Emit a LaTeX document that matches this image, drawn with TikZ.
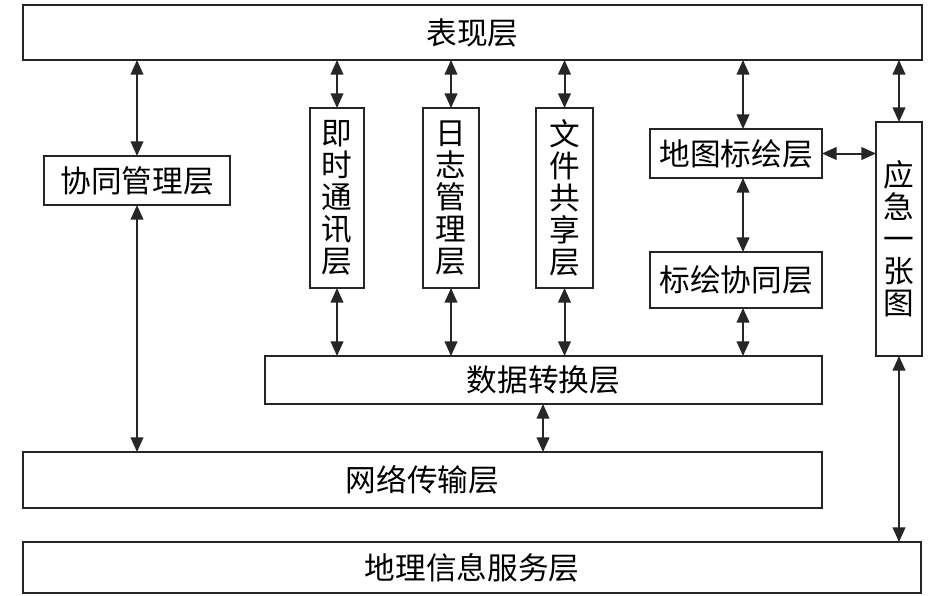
\documentclass[tikz,border=0pt]{standalone}
\usepackage{fontspec}
\newfontfamily\cjk{Noto Sans CJK SC}
\usetikzlibrary{arrows.meta}
\begin{document}
\begin{tikzpicture}[x=0.75pt,y=-0.75pt,
  box/.style={draw=black!85, line width=1.5pt, inner sep=0pt, outer sep=0pt, fill=white,
    font=\cjk\fontsize{23}{24}\selectfont, align=center},
  arr/.style={line width=1.5pt, draw=black!85, {Triangle[length=11pt,width=9.5pt]}-{Triangle[length=11pt,width=9.5pt]}}]
\useasboundingbox (0,0) rectangle (946,596);
% boxes
\node[box, minimum width=899*0.75pt, minimum height=55*0.75pt] (top) at (472.5,32.5) {表现层};
\node[box, minimum width=186*0.75pt, minimum height=49*0.75pt] (xt) at (137,180.5) {协同管理层};
\node[box, minimum width=54*0.75pt, minimum height=180*0.75pt] (js) at (337,198) {即\\时\\通\\讯\\层};
\node[box, minimum width=56*0.75pt, minimum height=180*0.75pt] (rz) at (451,198) {日\\志\\管\\理\\层};
\node[box, minimum width=57*0.75pt, minimum height=180*0.75pt] (wj) at (564.5,198) {文\\件\\共\\享\\层};
\node[box, minimum width=172*0.75pt, minimum height=49*0.75pt] (dt) at (736,153.5) {地图标绘层};
\node[box, minimum width=172*0.75pt, minimum height=56*0.75pt] (bh) at (736,280) {标绘协同层};
\node[box, minimum width=46*0.75pt, minimum height=234*0.75pt] (yj) at (899,239) {应\\急\\一\\张\\图};
\node[box, minimum width=557*0.75pt, minimum height=48*0.75pt] (sj) at (543.5,380) {数据转换层};
\node[box, minimum width=799*0.75pt, minimum height=56*0.75pt] (wl) at (422.5,480) {网络传输层};
\node[box, minimum width=898*0.75pt, minimum height=51*0.75pt] (dl) at (472,567.5) {地理信息服务层};
% helper x positions
\coordinate (ax) at (743,0);
\coordinate (yx) at (899,0);
\coordinate (sx) at (543,0);
% connectors
\draw[arr] (top.south -| xt.north) -- (xt.north);
\draw[arr] (xt.south) -- (wl.north -| xt.south);
\draw[arr] (top.south -| js.north) -- (js.north);
\draw[arr] (top.south -| rz.north) -- (rz.north);
\draw[arr] (top.south -| wj.north) -- (wj.north);
\draw[arr] (js.south) -- (sj.north -| js.south);
\draw[arr] (rz.south) -- (sj.north -| rz.south);
\draw[arr] (wj.south) -- (sj.north -| wj.south);
\draw[arr] (top.south -| ax) -- (dt.north -| ax);
\draw[arr] (dt.south -| ax) -- (bh.north -| ax);
\draw[arr] (bh.south -| ax) -- (sj.north -| ax);
\draw[arr] (dt.east) -- (dt.east -| yj.west);
\draw[arr] (top.south -| yx) -- (yj.north -| yx);
\draw[arr] (yj.south -| yx) -- (dl.north -| yx);
\draw[arr] (sj.south -| sx) -- (wl.north -| sx);
\end{tikzpicture}
\end{document}
